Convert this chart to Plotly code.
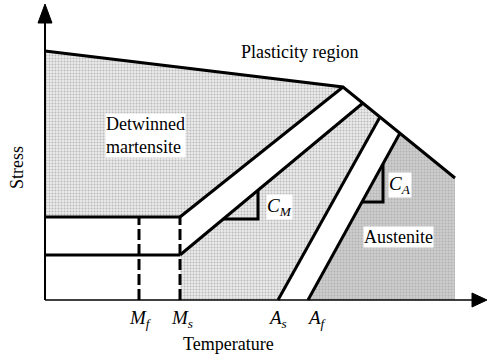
import plotly.graph_objects as go

# ---- data (temperature T, stress S in arbitrary units) ----
transition_labels = ["<i>M<sub>f</sub></i>", "<i>M<sub>s</sub></i>", "<i>A<sub>s</sub></i>", "<i>A<sub>f</sub></i>"]
transition_temps = [94, 135, 233, 263]          # Mf, Ms, As, Af
sigma_levels = [83, 45]                          # sigma_s(start), sigma_f(finish) detwinning
plastic_T = [0, 298, 318, 335, 355, 410]         # plasticity limit boundary
plastic_S = [249, 213, 197, 183, 167, 122]
T_max = 410

Mf, Ms, As, Af = transition_temps
sig_s, sig_f = sigma_levels

FONT = "Liberation Serif, Times New Roman, Times, serif"
fig = go.Figure()

def poly(xs, ys, fill, pat):
    fig.add_trace(go.Scatter(x=xs, y=ys, mode="lines", fill="toself", line=dict(width=0),
                             fillcolor=fill, fillpattern=pat, hoverinfo="skip", showlegend=False))

def line(xs, ys, w=3, dash=None):
    fig.add_trace(go.Scatter(x=xs, y=ys, mode="lines", line=dict(color="black", width=w, dash=dash),
                             hoverinfo="skip", showlegend=False))

light = dict(shape=".", fgcolor="#8a8a8a", bgcolor="#eaeaea", size=3, solidity=0.35)
dark = dict(shape=".", fgcolor="#9a9a9a", bgcolor="#cccccc", size=3, solidity=0.35)

# detwinned martensite region
poly([0, plastic_T[0], plastic_T[1], Ms, 0], [sig_s, plastic_S[0], plastic_S[1], sig_s, sig_s], "#e0e0e0", light)
# region between Ms(sigma_f) line and As line
poly([Ms, Ms, plastic_T[2], plastic_T[3], As, Ms], [0, sig_f, plastic_S[2], plastic_S[3], 0, 0], "#e0e0e0", light)
# austenite
poly([Af, plastic_T[4], plastic_T[5], T_max, Af], [0, plastic_S[4], plastic_S[5], 0, 0], "#c6c6c6", dark)

# boundaries
line([plastic_T[0], plastic_T[1], plastic_T[5]], [plastic_S[0], plastic_S[1], plastic_S[5]])
line([Ms, plastic_T[1]], [sig_s, plastic_S[1]])
line([Ms, plastic_T[2]], [sig_f, plastic_S[2]])
line([As, plastic_T[3]], [0, plastic_S[3]])
line([Af, plastic_T[4]], [0, plastic_S[4]])
line([0, Ms], [sig_s, sig_s])
line([0, Ms], [sig_f, sig_f])
line([Mf, Mf], [0, sig_s], dash="11px,4px")
line([Ms, Ms], [0, sig_s], dash="11px,4px")

# slope triangles
slope_M = (plastic_S[2] - sig_f) / (plastic_T[2] - Ms)
cm_S = 81
cm_T0 = Ms + (cm_S - sig_f) / slope_M
cm_T1 = 213
line([cm_T0, cm_T1, cm_T1], [cm_S, cm_S, sig_f + slope_M * (cm_T1 - Ms)])
slope_A = plastic_S[4] / (plastic_T[4] - Af)
ca_S = 98
ca_T0 = Af + ca_S / slope_A
ca_T1 = 338
line([ca_T0, ca_T1, ca_T1], [ca_S, ca_S, slope_A * (ca_T1 - Af)])

# axes with arrows
line([0, 0], [0, 280], w=2)
line([0, 430], [0, 0], w=1.6)
fig.add_trace(go.Scatter(x=[0, -7, 7, 0], y=[296, 277, 277, 296], mode="lines", fill="toself",
                         fillcolor="black", line=dict(color="black", width=1), hoverinfo="skip", showlegend=False))
fig.add_trace(go.Scatter(x=[442, 427, 427, 442], y=[0, 7, -7, 0], mode="lines", fill="toself",
                         fillcolor="black", line=dict(color="black", width=1), hoverinfo="skip", showlegend=False))

ann = []
def text(x, y, s, size=18, bg=None, angle=0, align="center"):
    ann.append(dict(x=x, y=y, text=s, showarrow=False, xref="x", yref="y", textangle=angle,
                    font=dict(family=FONT, size=size, color="black"), align=align,
                    bgcolor=bg if bg else "rgba(0,0,0,0)", borderpad=0))

text(254, 248, "Plasticity region")
text(100, 165, "Detwinned<br>martensite", bg="white", align="left")
text(234, 93, "<i>C<sub>M</sub></i>", bg="white", size=19)
text(355, 115, "<i>C<sub>A</sub></i>", bg="white", size=19)
text(353, 63, "Austenite", bg="white")
text(-28, 132, "Stress", angle=-90, size=18)
text(183, -44, "Temperature", size=18)
for tx, lab, dx in zip(transition_temps, transition_labels, [1, 2, -1, 9]):
    text(tx + dx, -19, lab, size=19)

fig.update_layout(
    width=487, height=356, margin=dict(l=0, r=0, t=0, b=0),
    plot_bgcolor="white", paper_bgcolor="white",
    xaxis=dict(range=[-45, 442], visible=False, fixedrange=True),
    yaxis=dict(range=[-56, 300], visible=False, fixedrange=True),
    annotations=ann,
)
fig.write_html("out.html")
